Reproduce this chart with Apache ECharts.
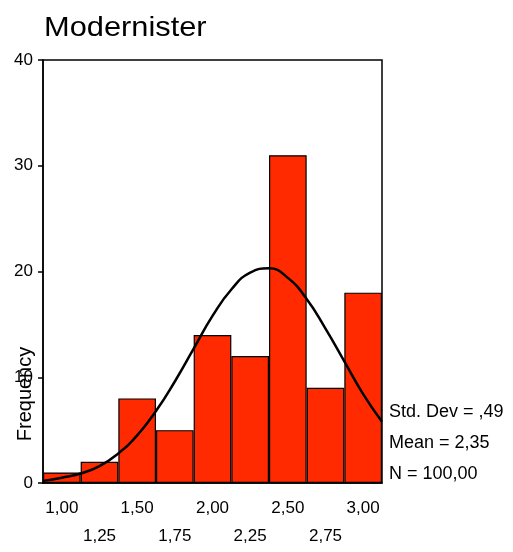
<!DOCTYPE html>
<html><head><meta charset="utf-8">
<script src="https://cdn.jsdelivr.net/npm/echarts@6/dist/echarts.min.js"></script>
<style>html,body{margin:0;padding:0;background:#fff}#c{width:513px;height:552px}</style>
</head><body><div id="c"></div>
<script>
var categories = ['1,00','1,25','1,50','1,75','2,00','2,25','2,50','2,75','3,00'];
var frequencies = [1, 2, 8, 5, 14, 12, 31, 9, 18];
var curveX = [0.875,1.0,1.125,1.25,1.375,1.5,1.625,1.75,1.875,2.0,2.125,2.25,2.375,2.5,2.625,2.75,2.875,3.0,3.125];
var curveY = [0.2,0.5,0.9,1.6,2.8,4.5,6.8,9.6,12.7,15.8,18.3,19.9,20.3,19.4,17.4,14.6,11.5,8.4,5.8];
var yTicks = [0, 10, 20, 30, 40];
var statsLines = ['Std. Dev = ,49', 'Mean = 2,35', 'N = 100,00'];

var font = '"Liberation Sans", Arial, sans-serif';
var chart = echarts.init(document.getElementById('c'));
var curve = curveX.map(function (x, i) { return [x, curveY[i]]; });
chart.setOption({
  animation: false,
  grid: { left: 43, right: 131, top: 60, bottom: 69, show: true, borderColor: '#000', borderWidth: 1.5, backgroundColor: 'transparent' },
  xAxis: [{
    type: 'category', data: categories, boundaryGap: true,
    axisLine: { lineStyle: { color: '#000', width: 1.5 } },
    axisTick: { alignWithLabel: true, interval: 0, length: 5, lineStyle: { color: '#000', width: 1.5 } },
    axisLabel: {
      interval: 0, color: '#000', fontFamily: font, fontSize: 17, margin: 11, lineHeight: 28,
      formatter: function (v, i) { return i % 2 ? '\n' + v : v; }
    }
  }, {
    type: 'value', min: 0.875, max: 3.125, show: false
  }],
  yAxis: {
    type: 'value', min: yTicks[0], max: yTicks[yTicks.length - 1], interval: 10,
    splitLine: { show: false },
    axisLine: { show: true, lineStyle: { color: '#000', width: 1.5 } },
    axisTick: { show: true, length: 5, lineStyle: { color: '#000', width: 1.5 } },
    axisLabel: { color: '#000', fontFamily: font, fontSize: 17, margin: 10 }
  },
  series: [{
    type: 'bar', data: frequencies, barCategoryGap: 0, xAxisIndex: 0,
    itemStyle: { color: '#ff2a00', borderColor: '#000', borderWidth: 1.2 }
  }, {
    type: 'line', data: curve, xAxisIndex: 1, smooth: 0.5, symbol: 'none',
    lineStyle: { color: '#000', width: 2.5 }, z: 5
  }],
  graphic: [
    { type: 'text', left: 44, top: 14, scaleX: 1.1, style: { text: 'Modernister', font: '28px ' + font, fill: '#000' } },
    { type: 'text', x: 25, y: 394, rotation: Math.PI / 2, style: { text: 'Frequency', font: '20px ' + font, fill: '#000', align: 'center', verticalAlign: 'middle' } },
    { type: 'text', x: 389, y: 412, style: { text: statsLines[0], font: '18px ' + font, fill: '#000', verticalAlign: 'middle' } },
    { type: 'text', x: 389, y: 443, style: { text: statsLines[1], font: '18px ' + font, fill: '#000', verticalAlign: 'middle' } },
    { type: 'text', x: 389, y: 474, style: { text: statsLines[2], font: '18px ' + font, fill: '#000', verticalAlign: 'middle' } }
  ]
});
</script></body></html>
